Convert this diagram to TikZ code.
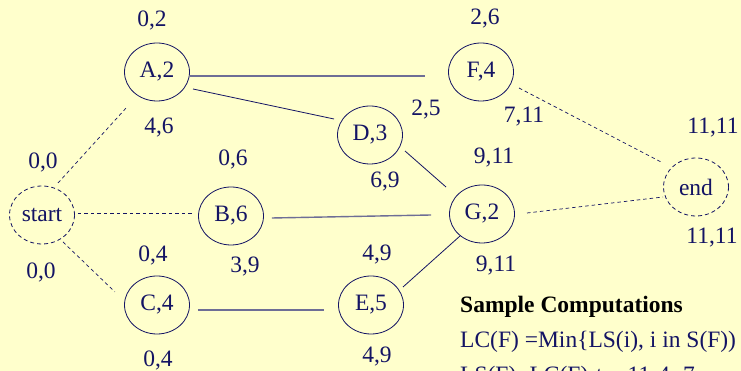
\documentclass[tikz,border=0pt]{standalone}
\usepackage{fontspec}
\setmainfont{Liberation Serif}
\usetikzlibrary{shapes.geometric,calc}
\definecolor{paper}{RGB}{255,255,204}
\definecolor{ink}{RGB}{20,20,100}
\definecolor{softink}{RGB}{110,110,150}
\tikzset{
  task/.style={ellipse,draw=ink,line width=0.8pt,minimum width=65pt,minimum height=58pt,inner sep=0pt,text=ink},
  terminal/.style={task,dashed,dash pattern=on 4pt off 3pt},
  lbl/.style={text=ink,inner sep=0pt},
  link/.style={draw=ink,line width=0.8pt},
  mainlink/.style={draw=softink,line width=1.4pt},
  dummy/.style={draw=ink,line width=0.7pt,dash pattern=on 3.5pt off 3pt},
}
\begin{document}
\begin{tikzpicture}[x=1pt,y=1pt,font=\fontsize{23.5}{28}\selectfont]
\fill[paper] (0,0) rectangle (741,371);
\clip (0,0) rectangle (741,371);
\useasboundingbox (0,0) rectangle (741,371);

% activity nodes
\node[task] (A) at (157,299) {A,2};
\node[task] (F) at (481,299) {F,4};
\node[task] (D) at (370,236) {D,3};
\node[task] (B) at (231,155) {B,6};
\node[task] (G) at (482,157) {G,2};
\node[task] (C) at (157,66) {C,4};
\node[task] (E) at (371,66) {E,5};
\node[terminal] (start) at (42,156) {start};
\node[terminal] (end) at (696,184) {end};

% earliest / latest times
\node[lbl] (a1) at (152,350) {0,2};
\node[lbl] (a2) at (159,243) {4,6};
\node[lbl] (f1) at (485,352) {2,6};
\node[lbl] (f2) at (524,254) {7,11};
\node[lbl] (d1) at (426,261) {2,5};
\node[lbl] (d2) at (385,189) {6,9};
\node[lbl] (b1) at (233,212) {0,6};
\node[lbl] (b2) at (245,104) {3,9};
\node[lbl] (g1) at (494,213) {9,11};
\node[lbl] (g2) at (496,105) {9,11};
\node[lbl] (c1) at (153,116) {0,4};
\node[lbl] (c2) at (158,11) {0,4};
\node[lbl] (e1) at (377,116) {4,9};
\node[lbl] (e2) at (377,14) {4,9};
\node[lbl] (s1) at (43,209) {0,0};
\node[lbl] (s2) at (41,99) {0,0};
\node[lbl] (n1) at (713,243) {11,11};
\node[lbl] (n2) at (712,133) {11,11};

% precedence links
\draw[mainlink] ($(A.east)+(0,-4)$) -- ($(F.west)+(-23,-4)$);
\draw[link] ($(A)+(36,-17)$) -- ($(D)+(-36,16)$);
\draw[link] ($(D)+(35,-16)$) -- ($(G)+(-36,27)$);
\draw[mainlink] ($(B.east)+(8,-2)$) -- ($(G.west)+(-18,-1)$);
\draw[mainlink] ($(C.east)+(8,-5)$) -- ($(E.west)+(-14,-5)$);
\draw[link] ($(E)+(32,18)$) -- ($(G)+(-22,-22)$);

% dummy links to start and end
\draw[dummy] ($(start)+(16,32)$) -- ($(A)+(-30,-35)$);
\draw[dummy] ($(start.east)+(3,2)$) -- ($(B.west)+(-4,3)$);
\draw[dummy] ($(start)+(21,-27)$) -- ($(C)+(-42,13)$);
\draw[dummy] ($(F)+(38,-16)$) -- ($(end)+(-33,24)$);
\draw[dummy] ($(G)+(45,1)$) -- ($(end)+(-33,-10)$);

% worked example
\node[lbl,anchor=base west,font=\fontsize{23.5}{28}\selectfont\bfseries,text=black] (sc) at (460,58) {Sample Computations};
\node[lbl,anchor=base west] (l1) at (460,23) {LC(F) =Min\{LS(i), i in S(F))};
\node[lbl,anchor=base west] (l2) at (460,-12) {LS(F)=LC(F)-t = 11-4=7};
\end{tikzpicture}
\end{document}
